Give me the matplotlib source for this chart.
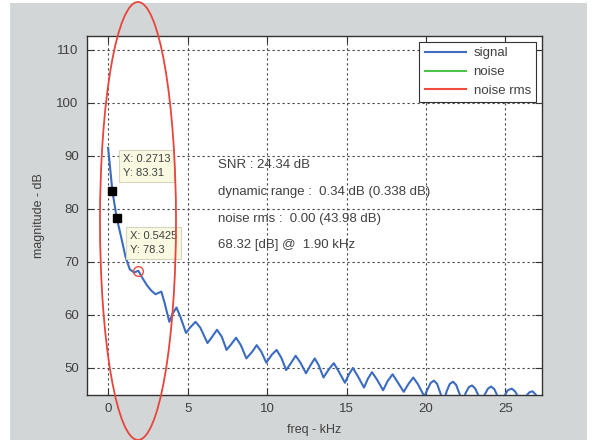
import matplotlib
matplotlib.use("Agg")
import matplotlib.pyplot as plt
from matplotlib.patches import Ellipse, Rectangle

plt.rcParams['font.family'] = ['Liberation Sans', 'DejaVu Sans']

# ---- data ----
freq_khz = [0.00, 0.27, 0.54, 0.81, 1.09, 1.36, 1.63, 1.90, 2.17, 2.44, 2.71, 2.98,
            3.20, 3.35, 3.55, 3.85, 4.05, 4.30, 4.55, 4.90, 5.15, 5.50, 5.80, 6.25,
            6.55, 6.85, 7.15, 7.45, 7.75, 8.05, 8.35, 8.70, 9.05, 9.35, 9.65, 9.95,
            10.30, 10.60, 10.90, 11.20, 11.50, 11.80, 12.10, 12.45, 12.75, 13.00,
            13.25, 13.55, 13.90, 14.20, 14.50, 14.90, 15.15, 15.40, 15.70, 16.10,
            16.35, 16.60, 16.90, 17.30, 17.60, 17.90, 18.20, 18.60, 18.90, 19.20,
            19.50, 19.90, 20.10, 20.30, 20.50, 20.70, 20.90, 21.10, 21.30, 21.50,
            21.70, 21.90, 22.10, 22.30, 22.50, 22.70, 22.90, 23.10, 23.30, 23.50,
            23.70, 23.90, 24.10, 24.30, 24.50, 24.70, 24.95, 25.15, 25.40, 25.60,
            25.85, 26.00, 26.30, 26.50, 26.70, 26.90, 27.10, 27.30]
signal_db = [91.5, 83.31, 78.3, 74.8, 71.0, 68.6, 68.0, 68.32, 66.9, 65.6, 64.6, 63.9,
             64.2, 64.4, 62.3, 58.7, 60.2, 61.4, 59.6, 56.6, 57.6, 58.7, 57.6, 54.7,
             55.9, 57.2, 55.9, 53.4, 54.5, 55.7, 54.3, 51.8, 53.0, 54.3, 53.0, 51.0,
             52.5, 53.4, 51.9, 49.6, 50.9, 52.3, 51.0, 49.0, 50.6, 51.8,
             50.5, 48.2, 49.8, 50.9, 49.4, 47.2, 48.8, 50.0, 48.5, 46.3,
             48.0, 49.2, 47.9, 45.8, 47.6, 48.8, 47.4, 45.5, 47.0, 48.2,
             46.9, 44.6, 46.0, 47.2, 47.6, 47.0, 45.3, 43.5, 45.6, 47.0,
             47.4, 46.8, 45.2, 43.5, 45.3, 46.4, 46.7, 46.1, 44.8, 43.0,
             45.0, 46.1, 46.5, 46.0, 44.7, 43.0, 44.8, 45.8, 46.1, 45.6,
             44.3, 43.0, 44.7, 45.4, 45.6, 45.0, 43.5, 43.0]

tip_x = [0.2713, 0.5425]
tip_y = [83.31, 78.3]
peak_x = 1.90
peak_y = 68.32

legend_labels = ['signal', 'noise', 'noise rms']
info_lines = ['SNR : 24.34 dB',
              'dynamic range :  0.34 dB (0.338 dB)',
              'noise rms :  0.00 (43.98 dB)',
              '68.32 [dB] @  1.90 kHz']

xticks = [0, 5, 10, 15, 20, 25]
yticks = [50, 60, 70, 80, 90, 100, 110]

# ---- figure ----
W, H = 597, 440
fig = plt.figure(figsize=(W / 100, H / 100), dpi=100, facecolor='white')
fig.add_artist(Rectangle((10 / W, 0), 577 / W, 1 - 3 / H, transform=fig.transFigure,
                         facecolor='#d3d6d6', edgecolor='none', zorder=-10))

ax = fig.add_axes([87 / W, 1 - 395 / H, (542 - 87) / W, (395 - 36) / H])
ax.set_facecolor('white')

blue = '#3b6cc2'
green = '#4cc44c'
red = '#f04b3c'

ax.plot(freq_khz, signal_db, color=blue, lw=1.5, label=legend_labels[0], zorder=3)
ax.plot([], [], color=green, lw=1.5, label=legend_labels[1])
ax.plot([], [], color=red, lw=1.5, label=legend_labels[2])

ax.plot(tip_x, tip_y, ls='none', marker='s', ms=6, color='black', zorder=5)
ax.plot([peak_x], [peak_y], ls='none', marker='o', ms=7, mfc='none', mec=red,
        mew=1.0, zorder=5)

ax.set_xlim(-1.33, 27.3)
ax.set_ylim(44.9, 112.6)
ax.set_xticks(xticks)
ax.set_yticks(yticks)

ax.grid(True, color='#444444', linestyle=(0, (2, 2.5)), linewidth=0.8)
ax.tick_params(direction='in', length=5, width=0.8, top=True, right=True,
               labelsize=9.5, labelcolor='#404040', color='#333333', pad=6)
for s in ax.spines.values():
    s.set_color('#333333')
    s.set_linewidth(1.0)

ax.set_xlabel('freq - kHz', fontsize=9, color='#404040', labelpad=6)
ax.set_ylabel('magnitude - dB', fontsize=9, color='#404040', labelpad=8)

leg = ax.legend(loc='upper right', fontsize=9.5, frameon=True, fancybox=False,
                framealpha=1, edgecolor='#333333', borderaxespad=0.45,
                handlelength=3.1, labelspacing=0.5, handletextpad=0.6,
                borderpad=0.4)
leg.get_frame().set_linewidth(0.8)
for t in leg.get_texts():
    t.set_color('#404040')

info_y = [88.3, 83.2, 78.1, 73.2]
for txt, yy in zip(info_lines, info_y):
    ax.text(6.9, yy, txt, fontsize=9.5, color='#404040', va='center', ha='left',
            zorder=4)

tip_box = dict(boxstyle='square,pad=0.35', facecolor='#fafae2', edgecolor='#d5d5c0',
               linewidth=0.8)
ax.text(0.94, 88.1, 'X: 0.2713\nY: 83.31', fontsize=8, color='#404040',
        va='center', ha='left', bbox=tip_box, linespacing=1.5, zorder=6)
ax.text(1.38, 73.6, 'X: 0.5425\nY: 78.3', fontsize=8, color='#404040',
        va='center', ha='left', bbox=tip_box, linespacing=1.5, zorder=6)

fig.add_artist(Ellipse((138 / W, 1 - 221 / H), width=76 / W, height=438 / H,
                       transform=fig.transFigure, fill=False, edgecolor='#e8453c',
                       linewidth=1.3, zorder=10, clip_on=False))

fig.savefig('out.png', dpi=100, facecolor=fig.get_facecolor())
